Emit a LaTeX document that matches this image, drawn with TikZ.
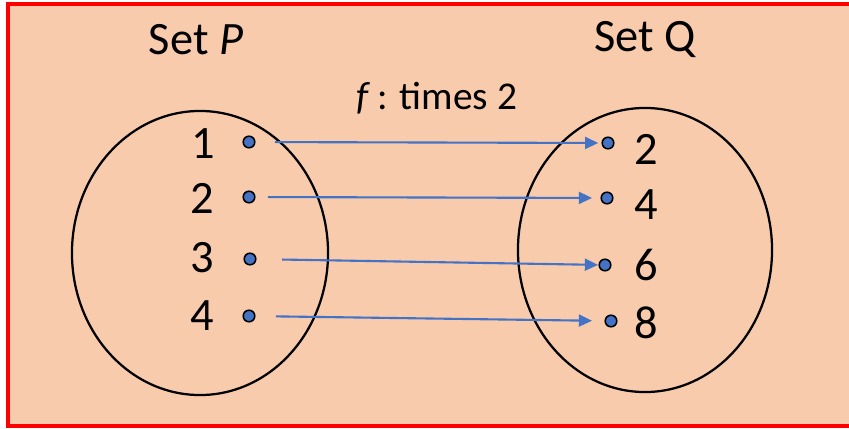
\documentclass[tikz,border=0pt]{standalone}
\usepackage{fontspec}
\setmainfont{Carlito}
\usepackage{tikz}
\usetikzlibrary{positioning, arrows.meta, shapes.geometric}
\definecolor{peach}{HTML}{F8CBAD}
\definecolor{frame}{HTML}{FF0000}
\definecolor{arrowblue}{HTML}{4472C4}

\begin{document}
\begin{tikzpicture}[x=0.025cm, y=-0.025cm,
  elt/.style={circle, draw=black, line width=1.1pt, fill=arrowblue, minimum size=0.29cm, inner sep=0pt},
  num/.style={font=\fontsize{33}{38}\selectfont, inner sep=0pt},
  maparrow/.style={draw=arrowblue, line width=1.5pt, -{Triangle[length=0.33cm, width=0.3cm]}}]
\useasboundingbox (0,0) rectangle (849,428);
\fill[white] (0,0) rectangle (849,428);
\draw[draw=frame, line width=2.2pt, fill=peach] (8,4) rectangle (856,426);
% the two sets
\node[ellipse, draw=black, line width=1.6pt, minimum width=6.4cm, minimum height=7.1cm, inner sep=0pt] (setP) at (200,253) {};
\node[ellipse, draw=black, line width=1.6pt, minimum width=6.35cm, minimum height=7.1cm, inner sep=0pt] (setQ) at (645,250) {};
\node[num] (titleP) at (196,40) {Set \textit{P}};
\node[num] (titleQ) at (645,40) {Set Q};
\node[font=\fontsize{28}{34}\selectfont, inner sep=0pt] (rule) at (437,98) {\textit{f}\,: times 2};
% elements of P
\node[num] (a1) at (203,144) {1};
\node[num] (a2) at (202,198) {2};
\node[num] (a3) at (202,258) {3};
\node[num] (a4) at (202,316) {4};
\node[elt] (p1) at (249,142) {};
\node[elt] (p2) at (249,197) {};
\node[elt] (p3) at (250,259) {};
\node[elt] (p4) at (249,316) {};
% elements of Q
\node[elt] (q1) at (608,143) {};
\node[elt] (q2) at (607,198) {};
\node[elt] (q3) at (605,265) {};
\node[elt] (q4) at (611,321) {};
\node[num] (b1) at (646,149) {2};
\node[num] (b2) at (646,205) {4};
\node[num] (b3) at (646,265) {6};
\node[num] (b4) at (646,323) {8};
% the mapping
\draw[maparrow, shorten <=0.48cm, shorten >=0.08cm] (p1) -- (q1);
\draw[maparrow, shorten <=0.31cm, shorten >=0.21cm] (p2) -- (q2);
\draw[maparrow, shorten <=0.64cm, shorten >=0.01cm] (p3) -- (q3);
\draw[maparrow, shorten <=0.51cm, shorten >=0.31cm] (p4) -- (q4);
\end{tikzpicture}
\end{document}
